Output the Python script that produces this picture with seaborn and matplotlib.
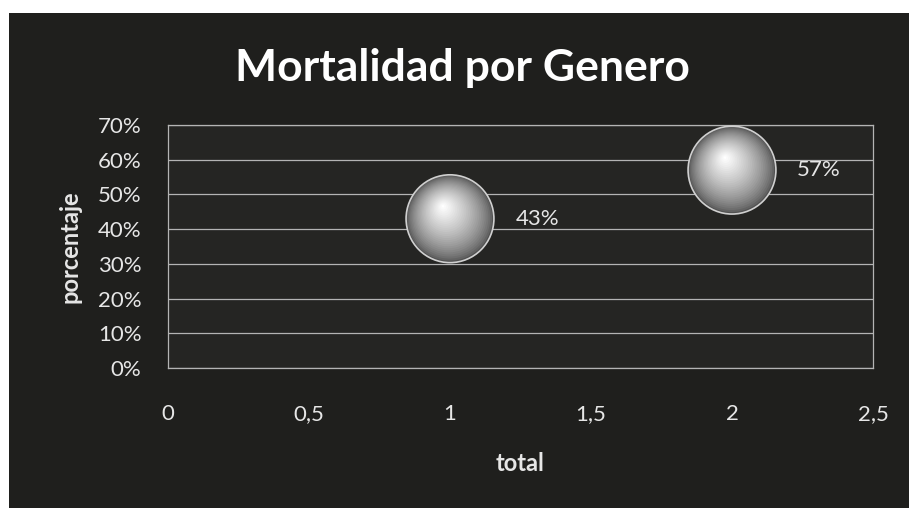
import numpy as np
import pandas as pd
import seaborn as sns
import matplotlib.pyplot as plt
import matplotlib.transforms as mtransforms
from matplotlib.patches import Rectangle
from matplotlib.ticker import FuncFormatter, MultipleLocator

# data
categoria = [1, 2]
porcentaje = [0.43, 0.57]
etiquetas = ["43%", "57%"]

df = pd.DataFrame({"total": categoria, "porcentaje": porcentaje})

sns.set_style("dark")
plt.rcParams["font.family"] = ["Lato", "DejaVu Sans"]

bg = "#1f1f1d"
fg = "#e6e6e6"
grid = "#b4b4b4"

fig = plt.figure(figsize=(9.09, 5.08), dpi=100, facecolor="white")
# dark chart area (scanned page has a white strip on top and left)
fig.patches.append(Rectangle((9 / 909, 0), 1, 1 - 13 / 508,
                             transform=fig.transFigure, facecolor=bg,
                             edgecolor="none", zorder=-10))

ax = fig.add_axes([168 / 909, 1 - 368 / 508, 705 / 909, 243 / 508])
ax.set_facecolor("#252523")
ax.set_zorder(1)

# sphere-like bubbles: many stacked circles, lighter and smaller toward the highlight
s_max = 4000
n_layers = 28
for i, t in enumerate(np.linspace(0, 1, n_layers)):
    size = s_max * (1 - 0.97 * t) ** 2
    grey = 0.32 + 0.68 * t ** 0.7
    dx, dy = -5 * t, 9 * t
    off = mtransforms.ScaledTranslation(dx / 72, dy / 72, fig.dpi_scale_trans)
    sns.scatterplot(data=df, x="total", y="porcentaje", s=size,
                    color=(grey, grey, grey), edgecolor="none", linewidth=0,
                    ax=ax, legend=False, zorder=3 + i * 0.01,
                    transform=ax.transData + off)
# rim
sns.scatterplot(data=df, x="total", y="porcentaje", s=s_max, facecolor="none",
                edgecolor="#d0d0d0", linewidth=1.2, ax=ax, legend=False, zorder=4)

for x, y, t in zip(categoria, porcentaje, etiquetas):
    ax.annotate(t, (x, y), xytext=(47, 0), textcoords="offset points",
                ha="left", va="center", color=fg, fontsize=16)

ax.set_xlim(0, 2.5)
ax.set_ylim(0, 0.7)
ax.xaxis.set_major_locator(MultipleLocator(0.5))
ax.yaxis.set_major_locator(MultipleLocator(0.1))
ax.xaxis.set_major_formatter(FuncFormatter(lambda v, p: f"{v:g}".replace(".", ",")))
ax.yaxis.set_major_formatter(FuncFormatter(lambda v, p: f"{v * 100:.0f}%"))

ax.grid(axis="y", color=grid, linewidth=0.9)
ax.grid(axis="x", visible=False)
for sp in ax.spines.values():
    sp.set_visible(True)
    sp.set_color(grid)
    sp.set_linewidth(0.9)

ax.tick_params(axis="both", colors=fg, labelsize=16, length=0)
ax.tick_params(axis="x", pad=26)
ax.tick_params(axis="y", pad=19)

ax.set_xlabel("total", color=fg, fontsize=17, fontweight="bold", labelpad=20)
ax.set_ylabel("porcentaje", color=fg, fontsize=17, fontweight="bold", labelpad=12)

fig.text(462 / 909, 1 - 68 / 508, "Mortalidad por Genero", color="white",
         fontsize=32, fontweight="bold", ha="center", va="center")

fig.savefig("out.png", dpi=100, facecolor=fig.get_facecolor())
